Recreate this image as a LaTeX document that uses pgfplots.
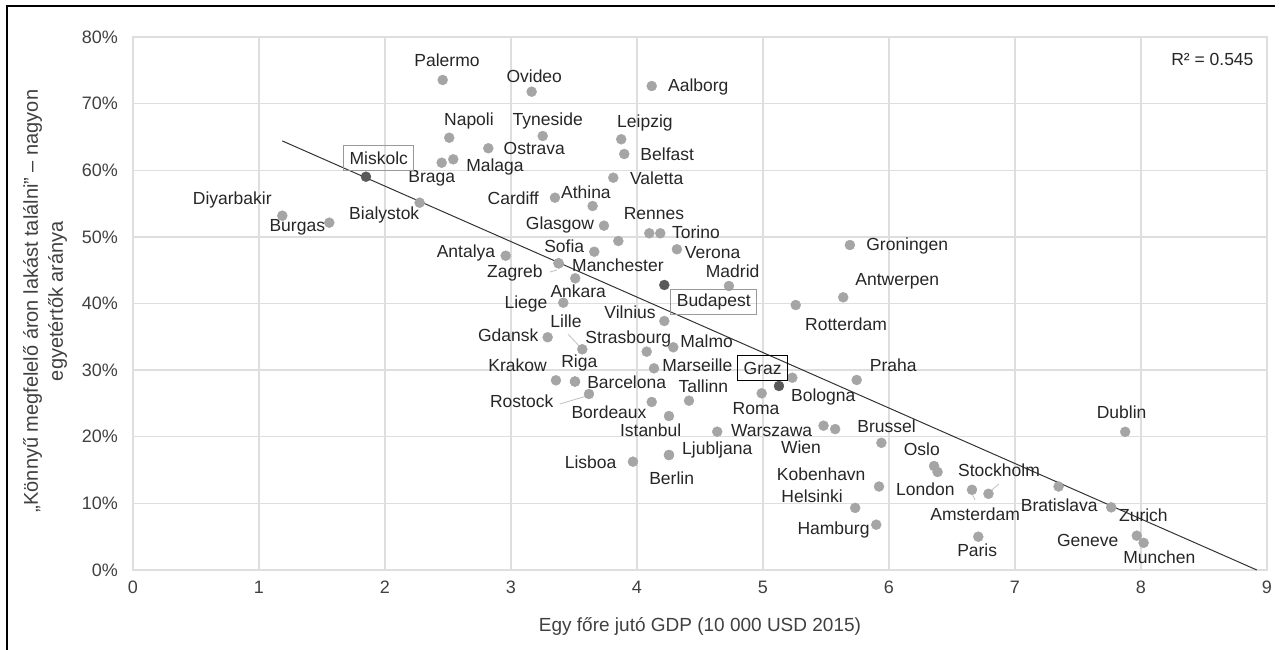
\documentclass[border=0pt]{standalone}
\usepackage{pgfplots}
\pgfplotsset{compat=1.18}
\usepackage{pgfplotstable}
\usepackage{fontspec}
\setmainfont{Liberation Sans}
\definecolor{dotgray}{HTML}{A5A5A5}
\definecolor{dotdark}{HTML}{595959}
\definecolor{gridgray}{HTML}{DEDEDE}
\definecolor{txt}{HTML}{262626}
\definecolor{ticktxt}{HTML}{404040}
\newcommand{\labelfont}{\fontsize{17.5pt}{20pt}\selectfont}
\newcommand{\tickfont}{\fontsize{18pt}{21pt}\selectfont}
\newcommand{\titlefont}{\fontsize{19pt}{25pt}\selectfont}
\newcommand{\ytitlefont}{\fontsize{20pt}{25pt}\selectfont}
\pgfplotsset{labdeps/.style={
  visualization depends on={\thisrow{dx}\as\dx},
  visualization depends on={\thisrow{dy}\as\dy}}}

\pgfplotstableread{
x y dx dy name
2.458 73.55 4.3 20 Palermo
3.164 71.79 2.6 15.7 Ovideo
4.117 72.64 46.6 -0.7 Aalborg
2.510 64.88 19.7 16.7 Napoli
3.252 65.14 5 15 Tyneside
3.875 64.65 23.7 16.6 Leipzig
2.820 63.30 46 -0.7 Ostrava
3.899 62.44 43 0 Belfast
2.542 61.64 41.7 -7.4 Malaga
2.450 61.13 -10 -15.6 Braga
3.812 58.88 43.4 -0.6 Valetta
1.185 53.18 -50 15.7 Diyarbakir
2.275 55.13 -35.4 -12.3 Bialystok
1.558 52.13 -32 -5 Burgas
3.349 55.88 -41.7 -0.6 Cardiff
3.648 54.63 -6.7 13.7 Athina
3.738 51.68 -44 0.7 Glasgow
4.098 50.54 4.7 20 Rennes
4.185 50.54 35.7 0.6 Torino
3.661 47.77 -30 5 Sofia
4.317 48.14 35.7 -3.4 Verona
5.690 48.78 57.3 -1 Groningen
2.958 47.17 -39.7 2.4 Antalya
3.378 46.03 -43.7 -9.4 Zagreb
3.378 46.03 59.3 -1.7 Manchester
3.510 43.78 3 -12.7 Ankara
4.730 42.63 3.7 15 Madrid
5.637 40.93 54 16.3 Antwerpen
3.415 40.12 -37.3 -1.3 Liege
4.217 37.37 -34.3 8.7 Vilnius
5.260 39.77 50.3 -19.3 Rotterdam
3.291 34.93 -39.4 2.3 Gdansk
3.566 33.13 -16.3 27.6 Lille
4.077 32.77 -18.4 12.4 Strasbourg
4.288 33.43 33.4 6.3 Malmo
3.357 28.47 -38.3 15.3 Krakow
3.508 28.29 4.3 18.2 Riga
3.508 28.29 51.7 -0.8 Barcelona
4.135 30.27 43.3 3.3 Marseille
5.744 28.52 36.6 15 Praha
5.233 28.86 31 -19 Bologna
4.413 25.41 14.3 14 Tallinn
3.619 26.42 -67.3 -7.7 Rostock
4.117 25.22 -42.7 -10.3 Bordeaux
4.990 26.52 -5.7 -15.7 Roma
4.254 23.11 -18.3 -14.7 Istanbul
4.637 20.76 54.4 1 Warszawa
5.573 21.15 -34.2 -18.6 Wien
5.940 19.09 5.2 16.1 Brussel
7.875 20.74 -3.6 19.5 Dublin
4.254 17.26 48.3 5 Ljubljana
4.254 17.26 2.7 -23.3 Berlin
3.968 16.26 -42.3 -1 Lisboa
6.358 15.61 -12.3 17 Oslo
6.386 14.71 -12.2 -17.3 London
5.921 12.53 -57.8 12.5 Kobenhavn
5.732 9.32 -43.1 11.9 Helsinki
5.899 6.80 -42.7 -5.3 Hamburg
6.659 12.04 3.2 -24.5 Amsterdam
6.790 11.44 10.5 23.1 Stockholm
7.346 12.53 0.7 -19.2 Bratislava
7.764 9.41 32.2 -7.7 Zurich
7.967 5.15 -49.1 -5 Geneve
8.021 4.08 15.7 -14.5 Munchen
6.709 5.00 -1.1 -14 Paris
}\citydata

\pgfplotstableread{
x y
3.852 49.38
5.481 21.66
}\otherdata

\pgfplotstableread{
x y dx dy name
1.849 59.03 12.8 18.5 Miskolc
4.217 42.78 49.5 -16.7 Budapest
}\greybox

\pgfplotstableread{
x y dx dy name
5.127 27.62 -16.3 17.7 Graz
}\blackbox

\begin{document}
\begin{tikzpicture}
\path[use as bounding box] (0pt,0pt) rectangle (1280pt,650pt);
\draw[black, line width=1.3pt] (7pt,0pt) -- (7pt,644pt) -- (1275pt,644pt);
\begin{axis}[
  at={(133pt,80pt)}, anchor=south west,
  scale only axis, width=1134pt, height=533pt,
  xmin=0, xmax=9, ymin=0, ymax=80,
  xtick={0,1,...,9}, ytick={0,10,...,80},
  grid=major, major grid style={gridgray, line width=1.3pt},
  axis line style={gridgray, line width=1.3pt},
  major tick length=0pt,
  /pgf/number format/assume math mode=true,
  tick label style={font=\tickfont, text=ticktxt},
  yticklabel={\pgfmathprintnumber{\tick}\%},
  xticklabel style={anchor=center, inner sep=0pt, yshift=-17pt},
  yticklabel style={anchor=east, inner sep=0pt, xshift=-15pt},
  clip=false,
]
% trendline
\addplot[color=black!80, line width=1pt] coordinates {(1.185,64.4) (8.92,0)};
% leader lines
\addplot[color=black!25, line width=0.8pt] coordinates {(3.452,35.42) (3.548,33.47)};
\addplot[color=black!25, line width=0.8pt] coordinates {(3.389,24.92) (3.587,26.04)};
\addplot[color=black!25, line width=0.8pt] coordinates {(3.310,44.73) (3.365,45.03)};
\addplot[color=black!25, line width=0.8pt] coordinates {(6.817,12.01) (6.873,12.91)};
\addplot[color=black!25, line width=0.8pt] coordinates {(6.664,11.26) (6.684,10.51)};
% unlabeled dots
\addplot[only marks, mark=*, mark size=5pt, color=dotgray] table[x=x,y=y]{\otherdata};
% labeled dots
\addplot[only marks, mark=*, mark size=5pt, color=dotgray, labdeps,
  nodes near coords, point meta=explicit symbolic,
  every node near coord/.append style={anchor=center, inner sep=0pt,
    xshift={\dx pt}, yshift={\dy pt}, font=\labelfont, text=txt}]
  table[x=x,y=y,meta=name]{\citydata};
% highlighted
\addplot[only marks, mark=*, mark size=5pt, color=dotdark, labdeps,
  nodes near coords, point meta=explicit symbolic,
  every node near coord/.append style={anchor=center, inner xsep=6pt,
    minimum height=25pt, draw=black!40, line width=1pt,
    xshift={\dx pt}, yshift={\dy pt}, font=\labelfont, text=txt}]
  table[x=x,y=y,meta=name]{\greybox};
\addplot[only marks, mark=*, mark size=5pt, color=dotdark, labdeps,
  nodes near coords, point meta=explicit symbolic,
  every node near coord/.append style={anchor=center, inner xsep=6pt,
    minimum height=25pt, draw=black, line width=1.2pt,
    xshift={\dx pt}, yshift={\dy pt}, font=\labelfont, text=txt}]
  table[x=x,y=y,meta=name]{\blackbox};
\end{axis}
\node[font=\labelfont, text=txt, anchor=east] at (1257pt,591pt) {R² = 0.545};
\node[font=\titlefont, text=ticktxt] at (700pt,24pt) {Egy főre jutó GDP (10 000 USD 2015)};
\node[font=\ytitlefont, text=ticktxt, rotate=90, align=center] at (45pt,349pt)
  {„Könnyű megfelelő áron lakást találni” – nagyon\\egyetértők aránya};
\end{tikzpicture}
\end{document}
